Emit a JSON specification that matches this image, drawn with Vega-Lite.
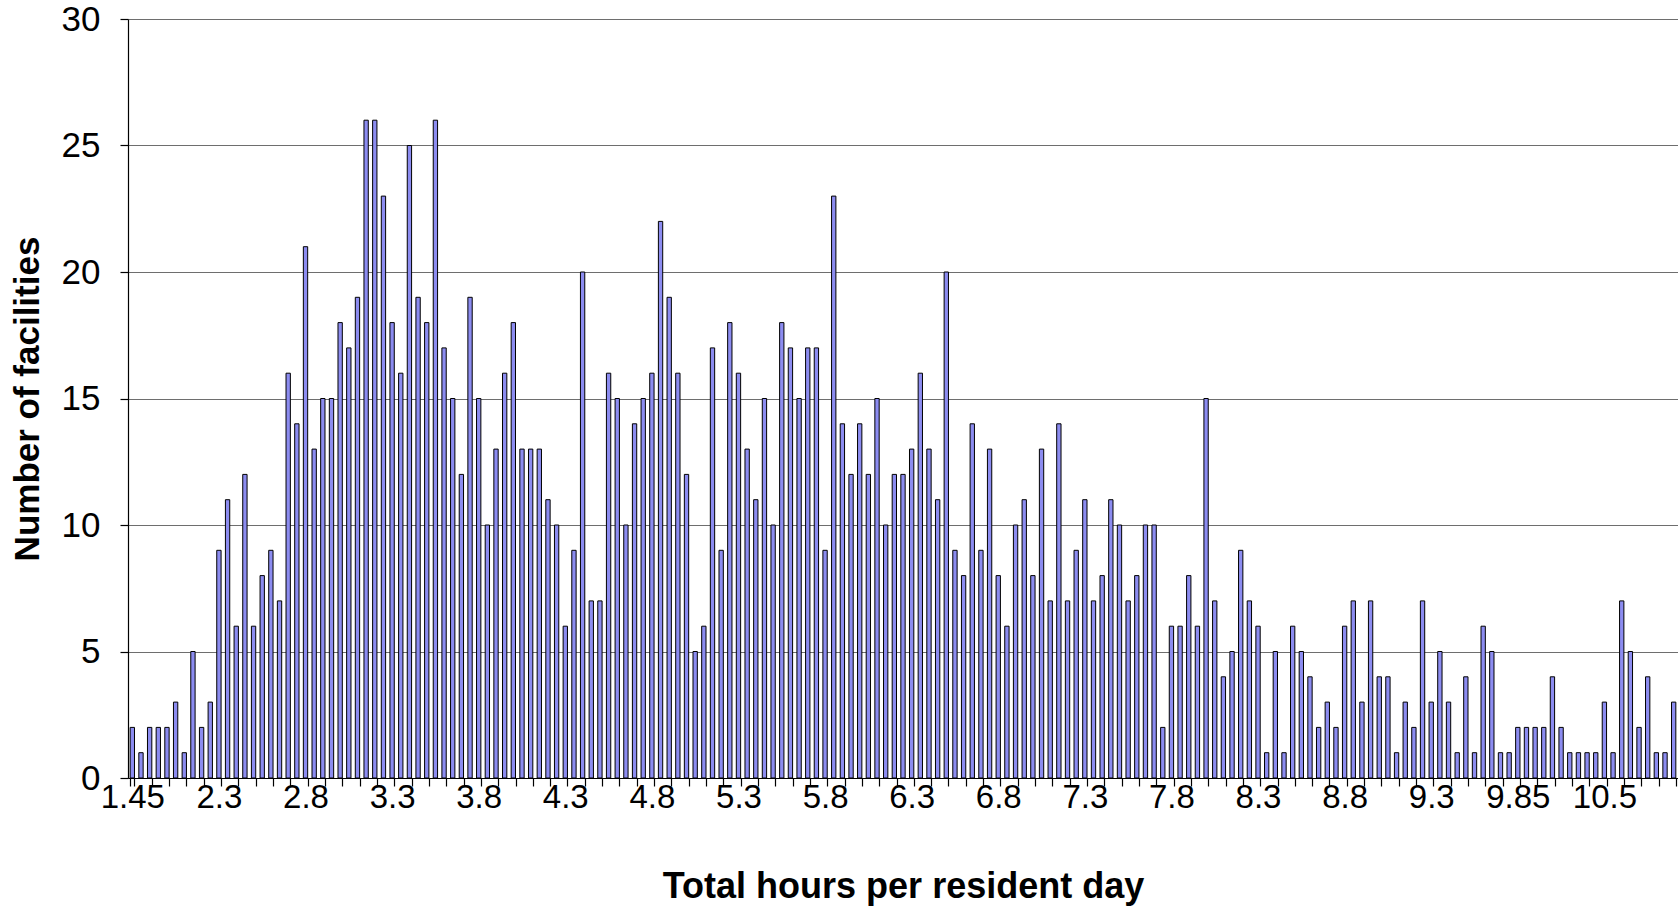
{
  "$schema": "https://vega.github.io/schema/vega-lite/v6.json",
  "width": 1550,
  "height": 759,
  "autosize": {"type": "none"},
  "padding": {"left": 128, "top": 19, "right": 0, "bottom": 133},
  "background": "white",
  "config": {
    "view": {"stroke": null},
    "font": "Liberation Sans",
    "axis": {"labelFont": "Liberation Sans", "titleFont": "Liberation Sans", "labelColor": "black", "titleColor": "black", "domainColor": "black", "tickColor": "black", "domainWidth": 1.2, "tickWidth": 1.2}
  },
  "data": {"values": [
    {"hours": "1.45", "facilities": 2}, {"hours": "1.5", "facilities": 1}, {"hours": "1.6", "facilities": 2}, {"hours": "1.7", "facilities": 2}, {"hours": "1.8", "facilities": 2},
    {"hours": "1.9", "facilities": 3}, {"hours": "2", "facilities": 1}, {"hours": "2.1", "facilities": 5}, {"hours": "2.2", "facilities": 2}, {"hours": "2.25", "facilities": 3},
    {"hours": "2.3", "facilities": 9}, {"hours": "2.35", "facilities": 11}, {"hours": "2.4", "facilities": 6}, {"hours": "2.45", "facilities": 12}, {"hours": "2.5", "facilities": 6},
    {"hours": "2.55", "facilities": 8}, {"hours": "2.6", "facilities": 9}, {"hours": "2.65", "facilities": 7}, {"hours": "2.7", "facilities": 16}, {"hours": "2.75", "facilities": 14},
    {"hours": "2.8", "facilities": 21}, {"hours": "2.85", "facilities": 13}, {"hours": "2.9", "facilities": 15}, {"hours": "2.95", "facilities": 15}, {"hours": "3", "facilities": 18},
    {"hours": "3.05", "facilities": 17}, {"hours": "3.1", "facilities": 19}, {"hours": "3.15", "facilities": 26}, {"hours": "3.2", "facilities": 26}, {"hours": "3.25", "facilities": 23},
    {"hours": "3.3", "facilities": 18}, {"hours": "3.35", "facilities": 16}, {"hours": "3.4", "facilities": 25}, {"hours": "3.45", "facilities": 19}, {"hours": "3.5", "facilities": 18},
    {"hours": "3.55", "facilities": 26}, {"hours": "3.6", "facilities": 17}, {"hours": "3.65", "facilities": 15}, {"hours": "3.7", "facilities": 12}, {"hours": "3.75", "facilities": 19},
    {"hours": "3.8", "facilities": 15}, {"hours": "3.85", "facilities": 10}, {"hours": "3.9", "facilities": 13}, {"hours": "3.95", "facilities": 16}, {"hours": "4", "facilities": 18},
    {"hours": "4.05", "facilities": 13}, {"hours": "4.1", "facilities": 13}, {"hours": "4.15", "facilities": 13}, {"hours": "4.2", "facilities": 11}, {"hours": "4.25", "facilities": 10},
    {"hours": "4.3", "facilities": 6}, {"hours": "4.35", "facilities": 9}, {"hours": "4.4", "facilities": 20}, {"hours": "4.45", "facilities": 7}, {"hours": "4.5", "facilities": 7},
    {"hours": "4.55", "facilities": 16}, {"hours": "4.6", "facilities": 15}, {"hours": "4.65", "facilities": 10}, {"hours": "4.7", "facilities": 14}, {"hours": "4.75", "facilities": 15},
    {"hours": "4.8", "facilities": 16}, {"hours": "4.85", "facilities": 22}, {"hours": "4.9", "facilities": 19}, {"hours": "4.95", "facilities": 16}, {"hours": "5", "facilities": 12},
    {"hours": "5.05", "facilities": 5}, {"hours": "5.1", "facilities": 6}, {"hours": "5.15", "facilities": 17}, {"hours": "5.2", "facilities": 9}, {"hours": "5.25", "facilities": 18},
    {"hours": "5.3", "facilities": 16}, {"hours": "5.35", "facilities": 13}, {"hours": "5.4", "facilities": 11}, {"hours": "5.45", "facilities": 15}, {"hours": "5.5", "facilities": 10},
    {"hours": "5.55", "facilities": 18}, {"hours": "5.6", "facilities": 17}, {"hours": "5.65", "facilities": 15}, {"hours": "5.7", "facilities": 17}, {"hours": "5.75", "facilities": 17},
    {"hours": "5.8", "facilities": 9}, {"hours": "5.85", "facilities": 23}, {"hours": "5.9", "facilities": 14}, {"hours": "5.95", "facilities": 12}, {"hours": "6", "facilities": 14},
    {"hours": "6.05", "facilities": 12}, {"hours": "6.1", "facilities": 15}, {"hours": "6.15", "facilities": 10}, {"hours": "6.2", "facilities": 12}, {"hours": "6.25", "facilities": 12},
    {"hours": "6.3", "facilities": 13}, {"hours": "6.35", "facilities": 16}, {"hours": "6.4", "facilities": 13}, {"hours": "6.45", "facilities": 11}, {"hours": "6.5", "facilities": 20},
    {"hours": "6.55", "facilities": 9}, {"hours": "6.6", "facilities": 8}, {"hours": "6.65", "facilities": 14}, {"hours": "6.7", "facilities": 9}, {"hours": "6.75", "facilities": 13},
    {"hours": "6.8", "facilities": 8}, {"hours": "6.85", "facilities": 6}, {"hours": "6.9", "facilities": 10}, {"hours": "6.95", "facilities": 11}, {"hours": "7", "facilities": 8},
    {"hours": "7.05", "facilities": 13}, {"hours": "7.1", "facilities": 7}, {"hours": "7.15", "facilities": 14}, {"hours": "7.2", "facilities": 7}, {"hours": "7.25", "facilities": 9},
    {"hours": "7.3", "facilities": 11}, {"hours": "7.35", "facilities": 7}, {"hours": "7.4", "facilities": 8}, {"hours": "7.45", "facilities": 11}, {"hours": "7.5", "facilities": 10},
    {"hours": "7.55", "facilities": 7}, {"hours": "7.6", "facilities": 8}, {"hours": "7.65", "facilities": 10}, {"hours": "7.7", "facilities": 10}, {"hours": "7.75", "facilities": 2},
    {"hours": "7.8", "facilities": 6}, {"hours": "7.85", "facilities": 6}, {"hours": "7.9", "facilities": 8}, {"hours": "7.95", "facilities": 6}, {"hours": "8", "facilities": 15},
    {"hours": "8.05", "facilities": 7}, {"hours": "8.1", "facilities": 4}, {"hours": "8.15", "facilities": 5}, {"hours": "8.2", "facilities": 9}, {"hours": "8.25", "facilities": 7},
    {"hours": "8.3", "facilities": 6}, {"hours": "8.35", "facilities": 1}, {"hours": "8.4", "facilities": 5}, {"hours": "8.45", "facilities": 1}, {"hours": "8.5", "facilities": 6},
    {"hours": "8.55", "facilities": 5}, {"hours": "8.6", "facilities": 4}, {"hours": "8.65", "facilities": 2}, {"hours": "8.7", "facilities": 3}, {"hours": "8.75", "facilities": 2},
    {"hours": "8.8", "facilities": 6}, {"hours": "8.85", "facilities": 7}, {"hours": "8.9", "facilities": 3}, {"hours": "8.95", "facilities": 7}, {"hours": "9", "facilities": 4},
    {"hours": "9.05", "facilities": 4}, {"hours": "9.1", "facilities": 1}, {"hours": "9.15", "facilities": 3}, {"hours": "9.2", "facilities": 2}, {"hours": "9.25", "facilities": 7},
    {"hours": "9.3", "facilities": 3}, {"hours": "9.35", "facilities": 5}, {"hours": "9.4", "facilities": 3}, {"hours": "9.45", "facilities": 1}, {"hours": "9.5", "facilities": 4},
    {"hours": "9.55", "facilities": 1}, {"hours": "9.6", "facilities": 6}, {"hours": "9.65", "facilities": 5}, {"hours": "9.7", "facilities": 1}, {"hours": "9.8", "facilities": 1},
    {"hours": "9.85", "facilities": 2}, {"hours": "9.9", "facilities": 2}, {"hours": "9.95", "facilities": 2}, {"hours": "10", "facilities": 2}, {"hours": "10.1", "facilities": 4},
    {"hours": "10.15", "facilities": 2}, {"hours": "10.2", "facilities": 1}, {"hours": "10.3", "facilities": 1}, {"hours": "10.35", "facilities": 1}, {"hours": "10.4", "facilities": 1},
    {"hours": "10.5", "facilities": 3}, {"hours": "10.55", "facilities": 1}, {"hours": "10.6", "facilities": 7}, {"hours": "10.65", "facilities": 5}, {"hours": "10.7", "facilities": 2},
    {"hours": "10.75", "facilities": 4}, {"hours": "10.8", "facilities": 1}, {"hours": "10.85", "facilities": 1}, {"hours": "10.9", "facilities": 3}
  ]},
  "mark": {"type": "bar", "fill": "#8c8cf0", "stroke": "black", "strokeWidth": 1},
  "encoding": {
    "x": {
      "field": "hours",
      "type": "ordinal",
      "sort": null,
      "scale": {"paddingInner": 0.5, "paddingOuter": 0.25},
      "axis": {
        "title": "Total hours per resident day",
        "titleFontSize": 36,
        "titleFontWeight": "bold",
        "titlePadding": 55,
        "labelFontSize": 33,
        "labelAngle": 0,
        "labelPadding": -5,
        "labelOverlap": false,
        "tickSize": 8,
        "tickBand": "extent",
        "grid": false,
        "values": ["1.45","1.6","1.8","2","2.2","2.3","2.4","2.5","2.6","2.7","2.8","2.9","3","3.1","3.2","3.3","3.4","3.5","3.6","3.7","3.8","3.9","4","4.1","4.2","4.3","4.4","4.5","4.6","4.7","4.8","4.9","5","5.1","5.2","5.3","5.4","5.5","5.6","5.7","5.8","5.9","6","6.1","6.2","6.3","6.4","6.5","6.6","6.7","6.8","6.9","7","7.1","7.2","7.3","7.4","7.5","7.6","7.7","7.8","7.9","8","8.1","8.2","8.3","8.4","8.5","8.6","8.7","8.8","8.9","9","9.1","9.2","9.3","9.4","9.5","9.6","9.7","9.85","9.95","10.1","10.2","10.35","10.5","10.6","10.7","10.8","10.9"],
        "labelExpr": "indexof(['1.45','2.3','2.8','3.3','3.8','4.3','4.8','5.3','5.8','6.3','6.8','7.3','7.8','8.3','8.8','9.3','9.85','10.5'], datum.value) >= 0 ? datum.value : ''"
      }
    },
    "y": {
      "field": "facilities",
      "type": "quantitative",
      "scale": {"domain": [0, 30], "nice": false},
      "axis": {
        "title": "Number of facilities",
        "titleFontSize": 35,
        "titleFontWeight": "bold",
        "titlePadding": 16,
        "labelFontSize": 35,
        "labelPadding": 20,
        "tickSize": 8,
        "values": [0, 5, 10, 15, 20, 25, 30],
        "grid": true,
        "gridColor": "#6e6e6e",
        "gridWidth": 1,
        "gridOpacity": 1
      }
    }
  }
}
